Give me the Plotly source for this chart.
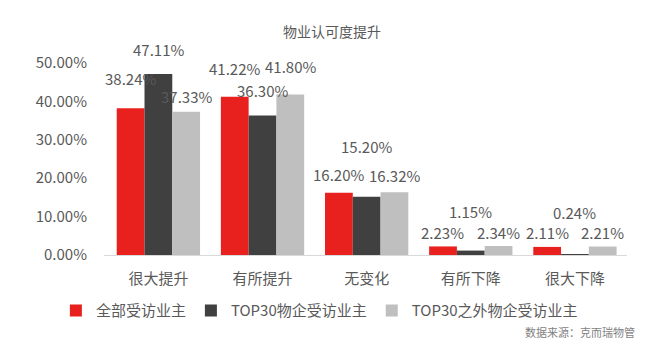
import plotly.graph_objects as go

categories = ["很大提升", "有所提升", "无变化", "有所下降", "很大下降"]
series_names = ["全部受访业主", "TOP30物企受访业主", "TOP30之外物企受访业主"]
all_owners = [38.24, 41.22, 16.20, 2.23, 2.11]
top30_owners = [47.11, 36.30, 15.20, 1.15, 0.24]
other_owners = [37.33, 41.80, 16.32, 2.34, 2.21]
y_ticks = [0, 10, 20, 30, 40, 50]

series_values = [all_owners, top30_owners, other_owners]
colors = ["#E8211E", "#404040", "#BFBFBF"]
# label vertical offsets (px above bar top), styling only
label_shift = [
    [30, 28, 18, 14, 14],
    [25, 25, 50, 39, 42],
    [15, 28, 17, 14, 14],
]

W, H = 650, 357
PAGE_OFF = 8  # default body margin of the html page
ml, mt = 104 - PAGE_OFF, 63 - PAGE_OFF
mr = W - (627 - PAGE_OFF)
mb = H - (255 - PAGE_OFF)
plot_w = W - ml - mr
bargap = 0.2
cat_w = plot_w / len(categories)
bar_w = cat_w * (1 - bargap) / 3

font_fam = "Noto Sans CJK SC, Noto Sans, sans-serif"
txt_col = "#595959"

fig = go.Figure()
for name, vals, col in zip(series_names, series_values, colors):
    fig.add_trace(go.Bar(
        x=categories, y=[v / 100 for v in vals], name=name,
        marker=dict(color=col, line=dict(width=0)),
    ))

annotations = []
for si, vals in enumerate(series_values):
    for ci, v in enumerate(vals):
        annotations.append(dict(
            x=categories[ci], y=v / 100, xref="x", yref="y",
            text=f"{v:.2f}%", showarrow=False,
            xshift=(si - 1) * bar_w, yshift=label_shift[si][ci],
            yanchor="middle", xanchor="center", borderpad=0,
            font=dict(family=font_fam, size=15, color=txt_col),
        ))

annotations.append(dict(
    x=1.019, y=-0.40, xref="paper", yref="paper", xanchor="right", yanchor="middle",
    text="数据来源：克而瑞物管", showarrow=False,
    font=dict(family=font_fam, size=11, color="#7F7F7F"),
))

fig.update_layout(
    width=W, height=H,
    margin=dict(l=ml, r=mr, t=mt, b=mb, autoexpand=False),
    paper_bgcolor="white", plot_bgcolor="white",
    barmode="group", bargap=bargap, bargroupgap=0,
    title=dict(text="物业认可度提升", x=(332 - PAGE_OFF) / W, xanchor="center",
               y=1 - (32 - PAGE_OFF) / H, yanchor="middle",
               font=dict(family=font_fam, size=14, color=txt_col)),
    font=dict(family=font_fam, size=15, color=txt_col),
    showlegend=True,
    legend=dict(orientation="h", x=-0.092, xanchor="left", y=-0.29, yanchor="middle",
                font=dict(family=font_fam, size=15, color=txt_col),
                itemwidth=30, traceorder="normal", bgcolor="rgba(0,0,0,0)"),
    annotations=annotations,
)
fig.update_xaxes(showgrid=False, showline=True, linecolor="#D9D9D9", linewidth=1,
                 ticks="", ticklabelstandoff=10, automargin=False,
                 tickfont=dict(family=font_fam, size=15, color=txt_col))
fig.update_yaxes(range=[0, 0.5], tickvals=[t / 100 for t in y_ticks], tickformat=".2%",
                 showgrid=False, zeroline=False, showline=False, ticks="",
                 ticklabelstandoff=16, automargin=False,
                 tickfont=dict(family=font_fam, size=15, color=txt_col))

fig.write_html("out.html")
